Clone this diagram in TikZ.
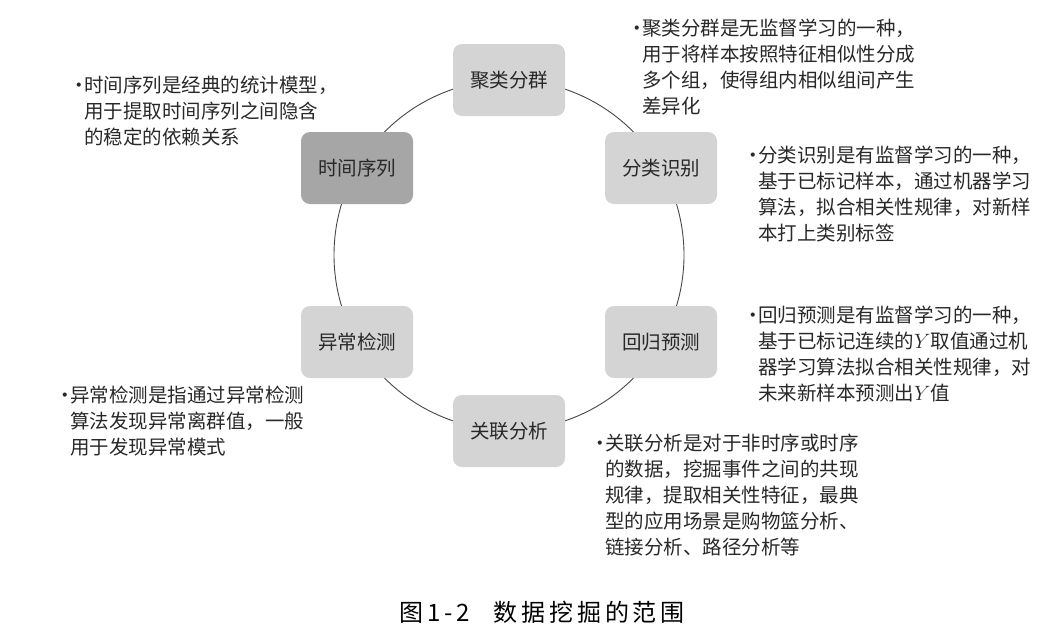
\documentclass[tikz,border=0pt]{standalone}
\usepackage{fontspec}
\setmainfont{Noto Sans CJK SC}
\newfontfamily\capfont[LetterSpace=16]{Noto Sans CJK SC}
\usepackage{xcolor}
\usetikzlibrary{positioning}

\definecolor{boxlight}{RGB}{212,212,212}
\definecolor{boxdark}{RGB}{167,166,167}
\definecolor{inkgray}{RGB}{40,40,40}
\definecolor{ringgray}{RGB}{70,70,70}

\tikzset{
  topic/.style={fill=boxlight, rounded corners=9pt, minimum width=112pt,
    minimum height=72pt, text=inkgray, font=\fontsize{19.5}{24}\selectfont},
  note/.style={anchor=north west, align=left, inner sep=0pt, text=inkgray,
    font=\fontsize{19.5}{26}\selectfont},
}
\newcommand{\bul}{\llap{·\hspace{-5pt}}}

\begin{document}
\begin{tikzpicture}[x=1pt, y=-1pt]
  \useasboundingbox (0,0) rectangle (1062,637);

  % ring behind the boxes
  \coordinate (ctr) at (509,255);
  \draw[ringgray, line width=0.9pt] (ctr) circle[radius=175pt];

  % the six boxes
  \node[topic] (julei) at (509,80) {聚类分群};
  \node[topic, fill=boxdark] (shijian) at (357,168) {时间序列};
  \node[topic] (fenlei) at (661,168) {分类识别};
  \node[topic] (yichang) at (357,342) {异常检测};
  \node[topic] (huigui) at (661,342) {回归预测};
  \node[topic] (guanlian) at (509,431) {关联分析};

  % notes
  \node[note] (shijiannote) at (84,76) {\bul 时间序列是经典的统计模型，\\用于提取时间序列之间隐含\\的稳定的依赖关系};
  \node[note] (juleinote) at (642,19) {\bul 聚类分群是无监督学习的一种，\\用于将样本按照特征相似性分成\\多个组，使得组内相似组间产生\\差异化};
  \node[note] (fenleinote) at (758,146) {\bul 分类识别是有监督学习的一种，\\基于已标记样本，通过机器学习\\算法，拟合相关性规律，对新样\\本打上类别标签};
  \node[note] (huiguinote) at (758,306) {\bul 回归预测是有监督学习的一种，\\基于已标记连续的$Y$取值通过机\\器学习算法拟合相关性规律，对\\未来新样本预测出$Y$值};
  \node[note] (yichangnote) at (70,386) {\bul 异常检测是指通过异常检测\\算法发现异常离群值，一般\\用于发现异常模式};
  \node[note] (guanliannote) at (605,434) {\bul 关联分析是对于非时序或时序\\的数据，挖掘事件之间的共现\\规律，提取相关性特征，最典\\型的应用场景是购物篮分析、\\链接分析、路径分析等};

  % caption
  \node[text=black] (caption) at (542,612) {\capfont\fontsize{24}{28}\selectfont 图1-2\hspace{24pt}数据挖掘的范围};
\end{tikzpicture}
\end{document}
